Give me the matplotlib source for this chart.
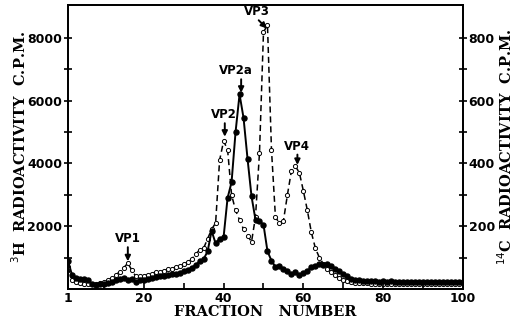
import matplotlib
matplotlib.use("Agg")
import matplotlib.pyplot as plt
from matplotlib.ticker import FixedLocator

# ---- data ----
fractions = list(range(1, 101))

h3_cpm = [900, 450, 350, 330, 330, 280, 170, 130, 150, 170,
          200, 230, 270, 320, 340, 300, 330, 220, 280, 300,
          330, 350, 380, 400, 420, 450, 480, 470, 520, 560,
          600, 680, 760, 880, 950, 1200, 1850, 1450, 1600, 1650,
          2900, 3400, 5000, 6200, 5450, 4150, 2950, 2200, 2150, 2050,
          1200, 900, 700, 740, 640, 560, 480, 530, 430, 510,
          580, 690, 740, 790, 760, 790, 720, 650, 560, 470,
          400, 330, 300, 280, 260, 250, 240, 250, 230, 240,
          230, 240, 230, 230, 220, 230, 220, 230, 220, 220,
          210, 220, 210, 220, 210, 220, 210, 220, 210, 230]

c14_cpm = [70, 30, 22, 18, 15, 15, 15, 17, 20, 22,
           28, 35, 45, 55, 68, 82, 60, 40, 40, 42,
           45, 48, 55, 55, 58, 62, 65, 70, 72, 78,
           85, 95, 110, 125, 130, 160, 190, 210, 410, 471,
           444, 300, 250, 220, 190, 170, 150, 230, 434, 818,
           841, 444, 228, 210, 217, 300, 376, 391, 370, 312,
           250, 180, 130, 100, 80, 65, 55, 45, 35, 28,
           24, 22, 20, 19, 18, 18, 17, 17, 16, 16,
           16, 15, 15, 15, 15, 15, 15, 15, 15, 15,
           15, 15, 15, 15, 15, 15, 15, 15, 15, 18]

x_ticks = [1, 20, 40, 60, 80, 100]
left_ticks = [2000, 4000, 6000, 8000]
right_ticks = [200, 400, 600, 800]

peak_labels = ["VP1", "VP2", "VP2a", "VP3", "VP4"]
label_xy = [(16, 1600), (40.0, 5550), (43.2, 6950), (48.3, 8850), (58.5, 4550)]
arrow_from = [(16, 1330), (40.3, 5280), (44.4, 6680), (48.8, 8560), (58.5, 4280)]
arrow_tip = [(16, 880), (40.3, 4850), (44.4, 6250), (50.8, 8300), (58.5, 3950)]

# ---- figure ----
fig = plt.figure(figsize=(5.15, 3.25), dpi=100)
ax = fig.add_axes([0.132, 0.111, 0.767, 0.874])
ax2 = ax.twinx()

ax2.plot(fractions, c14_cpm, color="black", lw=1.1, ls=(0, (4, 2.5)),
         marker="o", ms=3.0, mfc="white", mec="black", mew=0.7, zorder=2)
ax.plot(fractions, h3_cpm, color="black", lw=1.4, ls="-",
        marker="o", ms=3.6, mfc="black", mec="black", zorder=3)
ax.set_zorder(ax2.get_zorder() + 1)
ax.patch.set_visible(False)

ax.set_xlim(1, 100)
ax.set_ylim(0, 9050)
ax2.set_ylim(0, 905)

ax.xaxis.set_major_locator(FixedLocator(x_ticks))
ax.xaxis.set_minor_locator(FixedLocator([10, 30, 50, 70, 90]))
ax.yaxis.set_major_locator(FixedLocator(left_ticks))
ax.yaxis.set_minor_locator(FixedLocator([1000, 3000, 5000, 7000]))
ax2.yaxis.set_major_locator(FixedLocator(right_ticks))
ax2.yaxis.set_minor_locator(FixedLocator([100, 300, 500, 700]))

tickfont = dict(family="DejaVu Sans", weight="bold", size=9)
ax.set_xticklabels([str(t) for t in x_ticks], **tickfont)
ax.set_yticklabels([str(t) for t in left_ticks], **tickfont)
ax2.set_yticklabels([str(t) for t in right_ticks], **tickfont)

ax.tick_params(axis="x", which="both", direction="in", length=4, width=1.2, pad=2)
ax.tick_params(axis="y", which="both", direction="inout", length=6, width=1.2, pad=1)
ax2.tick_params(axis="y", which="both", direction="inout", length=6, width=1.2, pad=1)
for a in (ax, ax2):
    for s in a.spines.values():
        s.set_linewidth(1.3)

labfont = dict(family="DejaVu Serif", weight="bold", size=10.5)
ax.set_xlabel("FRACTION   NUMBER", labelpad=0, **labfont)
ax.set_ylabel(r"$^{3}$H  RADIOACTIVITY  C.P.M.", **labfont)
ax2.set_ylabel(r"$^{14}$C  RADIOACTIVITY  C.P.M.", rotation=90, **labfont)
ax.yaxis.set_label_coords(-0.098, 0.5)
ax2.yaxis.set_label_coords(1.084, 0.5)

for lab, (tx, ty), (sx, sy), (px, py) in zip(peak_labels, label_xy, arrow_from, arrow_tip):
    ax.text(tx, ty, lab, ha="center", va="center", family="DejaVu Sans",
            weight="bold", fontsize=8.5)
    ax.annotate("", xy=(px, py), xytext=(sx, sy),
                arrowprops=dict(arrowstyle="-|>", color="black", lw=1.4,
                                shrinkA=0, shrinkB=0, mutation_scale=8))

fig.savefig("out.png", dpi=100)
